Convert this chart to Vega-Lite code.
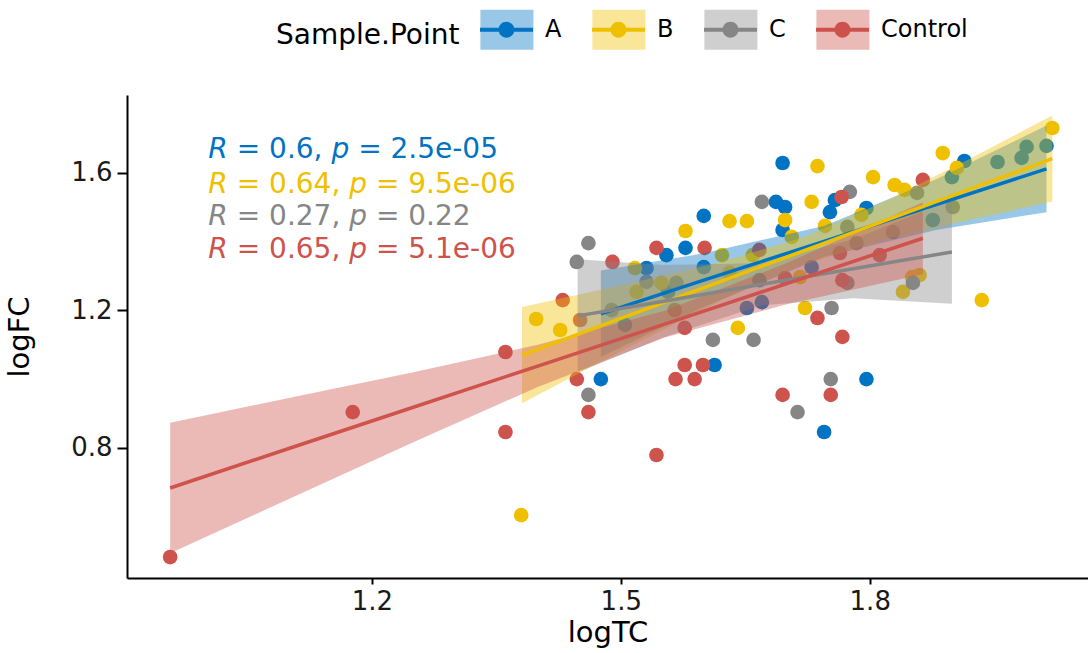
{
  "$schema": "https://vega.github.io/schema/vega-lite/v6.json",
  "width": 961,
  "height": 483,
  "autosize": {"type": "none"},
  "padding": {"left": 127, "top": 95, "right": 0, "bottom": 75},
  "background": "white",
  "config": {
    "view": {"stroke": null},
    "font": "DejaVu Sans",
    "axis": {"grid": false, "domainColor": "black", "domainWidth": 2, "tickColor": "black", "tickWidth": 2, "labelColor": "#1a1a1a", "labelFontSize": 26, "labelFont": "DejaVu Sans", "titleFont": "DejaVu Sans", "titleFontSize": 29, "titleFontWeight": "normal", "titleColor": "black"}
  },
  "datasets": {
    "pts": [
      {"logTC": 1.695, "logFC": 1.629, "group": "A"},
      {"logTC": 1.687, "logFC": 1.516, "group": "A"},
      {"logTC": 1.698, "logFC": 1.501, "group": "A"},
      {"logTC": 1.600, "logFC": 1.475, "group": "A"},
      {"logTC": 1.695, "logFC": 1.434, "group": "A"},
      {"logTC": 1.555, "logFC": 1.361, "group": "A"},
      {"logTC": 1.578, "logFC": 1.382, "group": "A"},
      {"logTC": 1.531, "logFC": 1.323, "group": "A"},
      {"logTC": 1.600, "logFC": 1.326, "group": "A"},
      {"logTC": 1.652, "logFC": 1.207, "group": "A"},
      {"logTC": 1.670, "logFC": 1.224, "group": "A"},
      {"logTC": 1.914, "logFC": 1.635, "group": "A"},
      {"logTC": 1.758, "logFC": 1.521, "group": "A"},
      {"logTC": 1.752, "logFC": 1.486, "group": "A"},
      {"logTC": 1.796, "logFC": 1.498, "group": "A"},
      {"logTC": 1.476, "logFC": 1.000, "group": "A"},
      {"logTC": 1.613, "logFC": 1.041, "group": "A"},
      {"logTC": 1.796, "logFC": 1.000, "group": "A"},
      {"logTC": 1.745, "logFC": 0.846, "group": "A"},
      {"logTC": 1.954, "logFC": 1.632, "group": "A"},
      {"logTC": 1.983, "logFC": 1.644, "group": "A"},
      {"logTC": 1.989, "logFC": 1.676, "group": "A"},
      {"logTC": 2.013, "logFC": 1.679, "group": "A"},
      {"logTC": 1.876, "logFC": 1.463, "group": "A"},
      {"logTC": 1.899, "logFC": 1.588, "group": "A"},
      {"logTC": 1.557, "logFC": 1.254, "group": "A"},
      {"logTC": 1.667, "logFC": 1.288, "group": "A"},
      {"logTC": 1.730, "logFC": 1.326, "group": "A"},
      {"logTC": 1.505, "logFC": 1.158, "group": "A"},
      {"logTC": 2.020, "logFC": 1.731, "group": "B"},
      {"logTC": 1.888, "logFC": 1.658, "group": "B"},
      {"logTC": 1.905, "logFC": 1.615, "group": "B"},
      {"logTC": 1.737, "logFC": 1.620, "group": "B"},
      {"logTC": 1.804, "logFC": 1.588, "group": "B"},
      {"logTC": 1.830, "logFC": 1.565, "group": "B"},
      {"logTC": 1.842, "logFC": 1.551, "group": "B"},
      {"logTC": 1.730, "logFC": 1.516, "group": "B"},
      {"logTC": 1.790, "logFC": 1.478, "group": "B"},
      {"logTC": 1.746, "logFC": 1.446, "group": "B"},
      {"logTC": 1.706, "logFC": 1.414, "group": "B"},
      {"logTC": 1.698, "logFC": 1.463, "group": "B"},
      {"logTC": 1.631, "logFC": 1.460, "group": "B"},
      {"logTC": 1.652, "logFC": 1.460, "group": "B"},
      {"logTC": 1.578, "logFC": 1.431, "group": "B"},
      {"logTC": 1.622, "logFC": 1.361, "group": "B"},
      {"logTC": 1.659, "logFC": 1.361, "group": "B"},
      {"logTC": 1.517, "logFC": 1.323, "group": "B"},
      {"logTC": 1.398, "logFC": 1.175, "group": "B"},
      {"logTC": 1.641, "logFC": 1.149, "group": "B"},
      {"logTC": 1.380, "logFC": 0.604, "group": "B"},
      {"logTC": 1.860, "logFC": 1.303, "group": "B"},
      {"logTC": 1.851, "logFC": 1.297, "group": "B"},
      {"logTC": 1.840, "logFC": 1.254, "group": "B"},
      {"logTC": 1.935, "logFC": 1.230, "group": "B"},
      {"logTC": 1.722, "logFC": 1.207, "group": "B"},
      {"logTC": 1.549, "logFC": 1.280, "group": "B"},
      {"logTC": 1.519, "logFC": 1.254, "group": "B"},
      {"logTC": 1.631, "logFC": 1.309, "group": "B"},
      {"logTC": 1.716, "logFC": 1.297, "group": "B"},
      {"logTC": 1.427, "logFC": 1.143, "group": "B"},
      {"logTC": 1.670, "logFC": 1.516, "group": "C"},
      {"logTC": 1.461, "logFC": 1.396, "group": "C"},
      {"logTC": 1.447, "logFC": 1.341, "group": "C"},
      {"logTC": 1.611, "logFC": 1.114, "group": "C"},
      {"logTC": 1.660, "logFC": 1.114, "group": "C"},
      {"logTC": 1.461, "logFC": 0.954, "group": "C"},
      {"logTC": 1.753, "logFC": 1.000, "group": "C"},
      {"logTC": 1.713, "logFC": 0.904, "group": "C"},
      {"logTC": 1.857, "logFC": 1.542, "group": "C"},
      {"logTC": 1.776, "logFC": 1.545, "group": "C"},
      {"logTC": 1.773, "logFC": 1.443, "group": "C"},
      {"logTC": 1.828, "logFC": 1.428, "group": "C"},
      {"logTC": 1.852, "logFC": 1.280, "group": "C"},
      {"logTC": 1.754, "logFC": 1.207, "group": "C"},
      {"logTC": 1.900, "logFC": 1.501, "group": "C"},
      {"logTC": 1.531, "logFC": 1.283, "group": "C"},
      {"logTC": 1.567, "logFC": 1.280, "group": "C"},
      {"logTC": 1.489, "logFC": 1.201, "group": "C"},
      {"logTC": 1.784, "logFC": 1.396, "group": "C"},
      {"logTC": 1.773, "logFC": 1.280, "group": "C"},
      {"logTC": 0.957, "logFC": 0.482, "group": "Control"},
      {"logTC": 1.177, "logFC": 0.904, "group": "Control"},
      {"logTC": 1.361, "logFC": 1.079, "group": "Control"},
      {"logTC": 1.361, "logFC": 0.846, "group": "Control"},
      {"logTC": 1.430, "logFC": 1.230, "group": "Control"},
      {"logTC": 1.447, "logFC": 1.000, "group": "Control"},
      {"logTC": 1.461, "logFC": 0.904, "group": "Control"},
      {"logTC": 1.543, "logFC": 1.382, "group": "Control"},
      {"logTC": 1.601, "logFC": 1.382, "group": "Control"},
      {"logTC": 1.490, "logFC": 1.341, "group": "Control"},
      {"logTC": 1.577, "logFC": 1.149, "group": "Control"},
      {"logTC": 1.543, "logFC": 0.779, "group": "Control"},
      {"logTC": 1.577, "logFC": 1.041, "group": "Control"},
      {"logTC": 1.599, "logFC": 1.041, "group": "Control"},
      {"logTC": 1.566, "logFC": 1.000, "group": "Control"},
      {"logTC": 1.589, "logFC": 1.000, "group": "Control"},
      {"logTC": 1.695, "logFC": 0.954, "group": "Control"},
      {"logTC": 1.753, "logFC": 0.954, "group": "Control"},
      {"logTC": 1.737, "logFC": 1.178, "group": "Control"},
      {"logTC": 1.767, "logFC": 1.123, "group": "Control"},
      {"logTC": 1.766, "logFC": 1.530, "group": "Control"},
      {"logTC": 1.864, "logFC": 1.580, "group": "Control"},
      {"logTC": 1.565, "logFC": 1.201, "group": "Control"},
      {"logTC": 1.698, "logFC": 1.294, "group": "Control"},
      {"logTC": 1.764, "logFC": 1.367, "group": "Control"},
      {"logTC": 1.767, "logFC": 1.288, "group": "Control"},
      {"logTC": 1.451, "logFC": 1.172, "group": "Control"},
      {"logTC": 1.812, "logFC": 1.361, "group": "Control"},
      {"logTC": 1.667, "logFC": 1.376, "group": "Control"}
    ],
    "bands": [
      {"group": "A", "logTC": 1.476, "fit": 1.190, "lo": 1.064, "hi": 1.316},
      {"group": "A", "logTC": 1.600, "fit": 1.288, "lo": 1.210, "hi": 1.366},
      {"group": "A", "logTC": 1.745, "fit": 1.401, "lo": 1.356, "hi": 1.446},
      {"group": "A", "logTC": 1.880, "fit": 1.508, "lo": 1.434, "hi": 1.582},
      {"group": "A", "logTC": 2.013, "fit": 1.612, "lo": 1.486, "hi": 1.738},
      {"group": "B", "logTC": 1.381, "fit": 1.070, "lo": 0.930, "hi": 1.210},
      {"group": "B", "logTC": 1.500, "fit": 1.177, "lo": 1.081, "hi": 1.273},
      {"group": "B", "logTC": 1.620, "fit": 1.284, "lo": 1.228, "hi": 1.340},
      {"group": "B", "logTC": 1.720, "fit": 1.373, "lo": 1.333, "hi": 1.413},
      {"group": "B", "logTC": 1.820, "fit": 1.463, "lo": 1.407, "hi": 1.519},
      {"group": "B", "logTC": 1.920, "fit": 1.552, "lo": 1.463, "hi": 1.641},
      {"group": "B", "logTC": 2.020, "fit": 1.642, "lo": 1.517, "hi": 1.767},
      {"group": "C", "logTC": 1.448, "fit": 1.184, "lo": 1.019, "hi": 1.349},
      {"group": "C", "logTC": 1.550, "fit": 1.226, "lo": 1.120, "hi": 1.332},
      {"group": "C", "logTC": 1.670, "fit": 1.276, "lo": 1.215, "hi": 1.337},
      {"group": "C", "logTC": 1.780, "fit": 1.321, "lo": 1.235, "hi": 1.407},
      {"group": "C", "logTC": 1.899, "fit": 1.370, "lo": 1.219, "hi": 1.521},
      {"group": "Control", "logTC": 0.957, "fit": 0.683, "lo": 0.493, "hi": 0.873},
      {"group": "Control", "logTC": 1.100, "fit": 0.798, "lo": 0.651, "hi": 0.945},
      {"group": "Control", "logTC": 1.250, "fit": 0.918, "lo": 0.816, "hi": 1.020},
      {"group": "Control", "logTC": 1.400, "fit": 1.038, "lo": 0.977, "hi": 1.100},
      {"group": "Control", "logTC": 1.553, "fit": 1.160, "lo": 1.121, "hi": 1.199},
      {"group": "Control", "logTC": 1.700, "fit": 1.278, "lo": 1.218, "hi": 1.338},
      {"group": "Control", "logTC": 1.864, "fit": 1.410, "lo": 1.305, "hi": 1.515}
    ],
    "ann": [
      {"group": "A", "y": 1.667, "s1": "= 0.6,", "s2": "= 2.5e-05"},
      {"group": "B", "y": 1.565, "s1": "= 0.64,", "s2": "= 9.5e-06"},
      {"group": "C", "y": 1.472, "s1": "= 0.27,", "s2": "= 0.22"},
      {"group": "Control", "y": 1.376, "s1": "= 0.65,", "s2": "= 5.1e-06"}
    ]
  },
  "layer": [
    {
      "data": {"name": "pts"},
      "mark": {"type": "circle", "size": 215, "opacity": 1},
      "encoding": {
        "x": {"field": "logTC", "type": "quantitative", "scale": {"domain": [0.905, 2.063], "nice": false, "zero": false},
              "axis": {"values": [1.2, 1.5, 1.8], "format": ".1f", "title": "logTC", "tickSize": 6, "labelPadding": 4, "titlePadding": 4}},
        "y": {"field": "logFC", "type": "quantitative", "scale": {"domain": [0.421, 1.827], "nice": false, "zero": false},
              "axis": {"values": [0.8, 1.2, 1.6], "format": ".1f", "title": "logFC", "tickSize": 10, "labelPadding": 5, "titlePadding": 36}},
        "fill": {"field": "group", "type": "nominal", "title": "Sample.Point",
                 "scale": {"range": ["#0073C2", "#EFC000", "#868686", "#CD534C"]},
                 "legend": {"orient": "none", "legendX": 149, "legendY": -92, "direction": "horizontal", "titleOrient": "left",
                            "titleFontSize": 28, "titleFontWeight": "normal", "titleColor": "black", "titlePadding": 20, "titleLimit": 500, "titleAnchor": "middle", "titleBaseline": "top",
                            "labelFontSize": 24, "labelColor": "black", "labelOffset": 12, "columnPadding": 30,
                            "symbolType": "M-1,-0.08L1,-0.08L1,0.08L-1,0.08Z M0.3,0A0.3,0.3,0,1,1,-0.3,0A0.3,0.3,0,1,1,0.3,0Z",
                            "symbolSize": 2809, "symbolStrokeWidth": 0, "symbolOpacity": 1}}
      }
    },
    {
      "data": {"name": "bands"},
      "mark": {"type": "area", "opacity": 0.4},
      "encoding": {
        "x": {"field": "logTC", "type": "quantitative", "title": "logTC"},
        "y": {"field": "lo", "type": "quantitative", "title": "logFC"},
        "y2": {"field": "hi"},
        "color": {"field": "group", "type": "nominal",
                  "scale": {"range": ["#0073C2", "#EFC000", "#868686", "#CD534C"]},
                  "legend": {"orient": "none", "legendX": 353.4, "legendY": -92, "direction": "horizontal", "title": null,
                             "labelFontSize": 24, "labelColor": "transparent", "labelOffset": 12, "columnPadding": 30,
                             "symbolType": "M-1,-0.755L1,-0.755L1,0.755L-1,0.755Z",
                             "symbolSize": 2809, "symbolStrokeWidth": 0, "symbolOpacity": 0.4}}
      }
    },
    {
      "data": {"name": "bands"},
      "mark": {"type": "line", "strokeWidth": 3.5},
      "encoding": {
        "x": {"field": "logTC", "type": "quantitative", "title": "logTC"},
        "y": {"field": "fit", "type": "quantitative", "title": "logFC"},
        "stroke": {"field": "group", "type": "nominal", "scale": {"range": ["#0073C2", "#EFC000", "#868686", "#CD534C"]}, "legend": null}
      }
    },
    {
      "data": {"name": "ann"},
      "mark": {"type": "text", "text": "R", "fontStyle": "italic", "fontSize": 28, "font": "DejaVu Sans", "align": "left", "baseline": "middle"},
      "encoding": {
        "x": {"datum": 1.003, "type": "quantitative"},
        "y": {"field": "y", "type": "quantitative", "title": "logFC"},
        "fill": {"field": "group", "type": "nominal", "legend": null}
      }
    },
    {
      "data": {"name": "ann"},
      "mark": {"type": "text", "fontSize": 28, "font": "DejaVu Sans", "align": "left", "baseline": "middle", "dx": 28.4},
      "encoding": {
        "x": {"datum": 1.003, "type": "quantitative"},
        "y": {"field": "y", "type": "quantitative", "title": "logFC"},
        "text": {"field": "s1"},
        "fill": {"field": "group", "type": "nominal", "legend": null}
      }
    },
    {
      "data": {"name": "ann"},
      "transform": [{"filter": "datum.group === 'A'"}],
      "mark": {"type": "text", "text": "p", "fontStyle": "italic", "fontSize": 28, "font": "DejaVu Sans", "align": "left", "baseline": "middle", "dx": 123.1},
      "encoding": {
        "x": {"datum": 1.003, "type": "quantitative"},
        "y": {"field": "y", "type": "quantitative", "title": "logFC"},
        "fill": {"field": "group", "type": "nominal", "legend": null}
      }
    },
    {
      "data": {"name": "ann"},
      "transform": [{"filter": "datum.group !== 'A'"}],
      "mark": {"type": "text", "text": "p", "fontStyle": "italic", "fontSize": 28, "font": "DejaVu Sans", "align": "left", "baseline": "middle", "dx": 140.9},
      "encoding": {
        "x": {"datum": 1.003, "type": "quantitative"},
        "y": {"field": "y", "type": "quantitative", "title": "logFC"},
        "fill": {"field": "group", "type": "nominal", "legend": null}
      }
    },
    {
      "data": {"name": "ann"},
      "transform": [{"filter": "datum.group === 'A'"}],
      "mark": {"type": "text", "fontSize": 28, "font": "DejaVu Sans", "align": "left", "baseline": "middle", "dx": 149.8},
      "encoding": {
        "x": {"datum": 1.003, "type": "quantitative"},
        "y": {"field": "y", "type": "quantitative", "title": "logFC"},
        "text": {"field": "s2"},
        "fill": {"field": "group", "type": "nominal", "legend": null}
      }
    },
    {
      "data": {"name": "ann"},
      "transform": [{"filter": "datum.group !== 'A'"}],
      "mark": {"type": "text", "fontSize": 28, "font": "DejaVu Sans", "align": "left", "baseline": "middle", "dx": 167.6},
      "encoding": {
        "x": {"datum": 1.003, "type": "quantitative"},
        "y": {"field": "y", "type": "quantitative", "title": "logFC"},
        "text": {"field": "s2"},
        "fill": {"field": "group", "type": "nominal", "legend": null}
      }
    }
  ]
}
